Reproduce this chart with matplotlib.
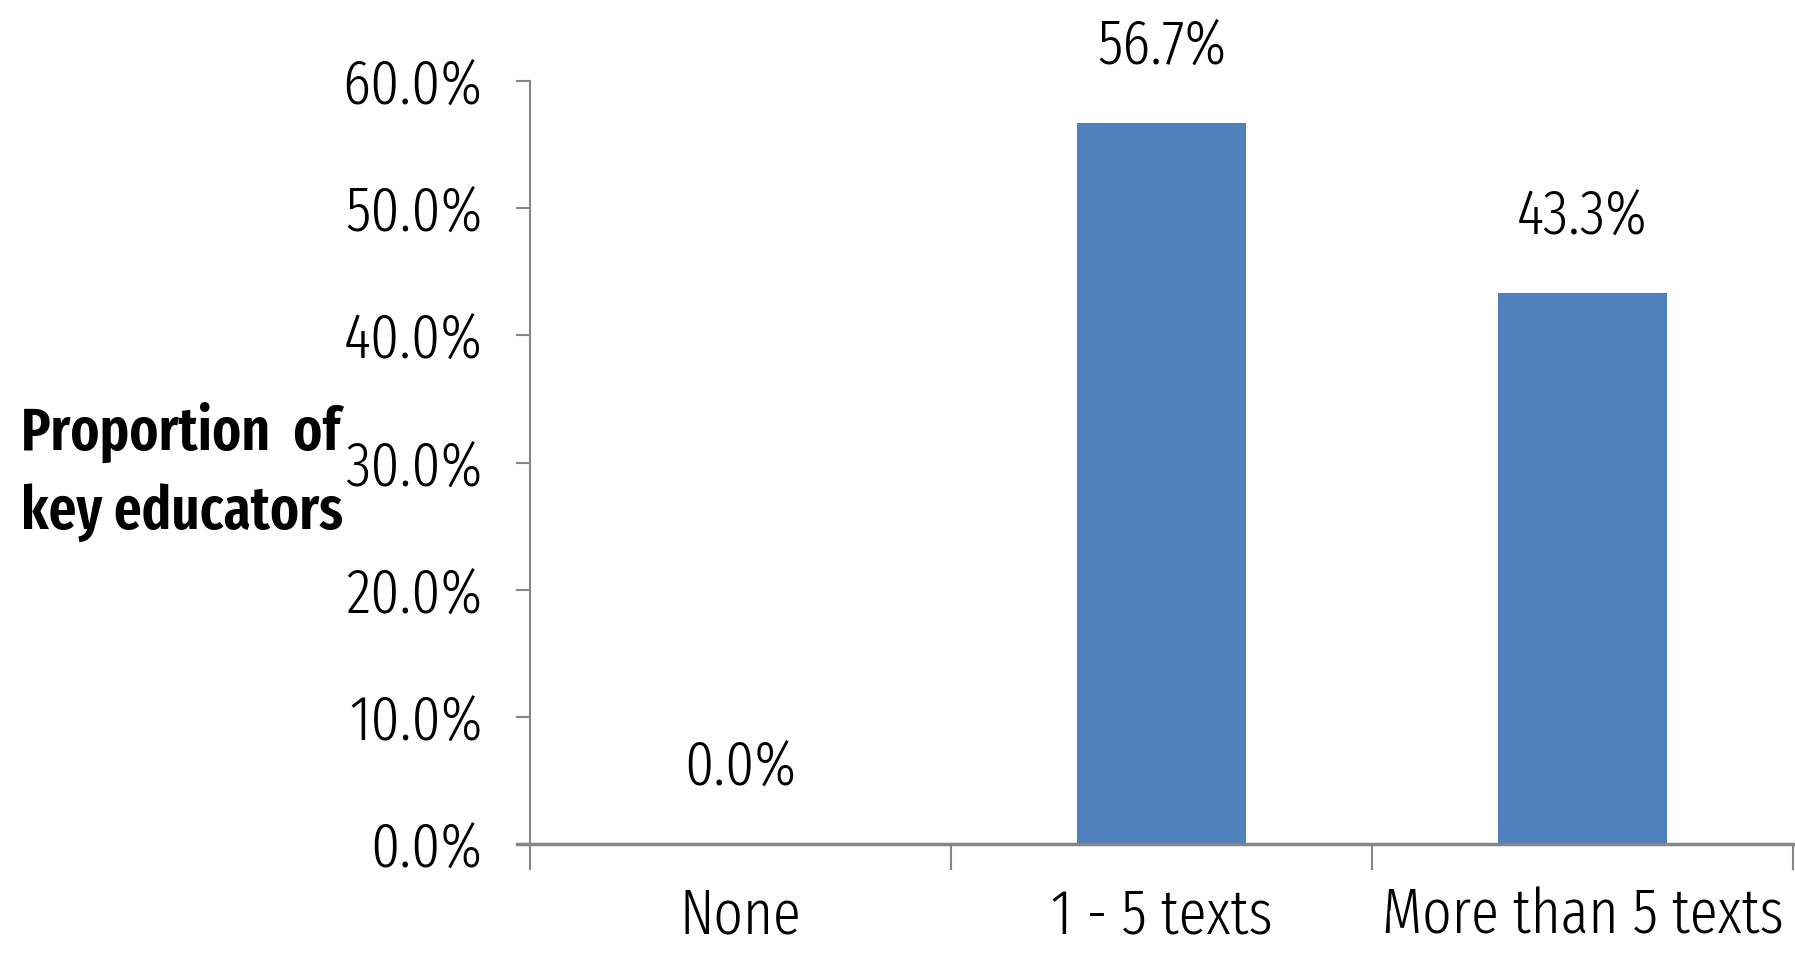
import matplotlib
matplotlib.use("Agg")
import matplotlib.pyplot as plt
from matplotlib.ticker import FixedLocator, PercentFormatter

categories = ["None", "1 - 5 texts", "More than 5 texts"]
shares = [0.0, 0.567, 0.433]
value_labels = ["0.0%", "56.7%", "43.3%"]
y_ticks = [0.0, 0.1, 0.2, 0.3, 0.4, 0.5, 0.6]
y_title = "Proportion  of\nkey educators"

FONT = ["Fira Sans Extra Condensed", "Fira Sans Condensed", "DejaVu Sans"]
BAR_COLOR = "#4F81BD"
AXIS_COLOR = "#868686"
LABEL_SIZE = 45

plt.rcParams["font.family"] = FONT
plt.rcParams["font.weight"] = 300

fig = plt.figure(figsize=(17.95, 9.67), dpi=100)
ax = fig.add_axes([0.2953, 0.1272, 0.7037, 0.789])

x = list(range(len(categories)))
ax.bar(x, shares, width=0.4, color=BAR_COLOR, zorder=2)

for xi, v, lab in zip(x, shares, value_labels):
    ax.annotate(lab, (xi, v), xytext=(0, 33), textcoords="offset points",
                ha="center", va="bottom", fontsize=LABEL_SIZE, color="black",
                fontweight=300)

ax.set_xlim(-0.5, len(categories) - 0.5)
ax.set_ylim(0, 0.6)

# y axis
ax.set_yticks(y_ticks)
ax.yaxis.set_major_formatter(PercentFormatter(1.0, decimals=1))
ax.tick_params(axis="y", which="major", length=10, width=1.5, color=AXIS_COLOR,
               direction="out", pad=24, labelsize=LABEL_SIZE, labelcolor="black")

# x axis: ticks at category boundaries, labels at category centres
ax.xaxis.set_major_locator(FixedLocator([i - 0.5 for i in range(len(categories) + 1)]))
ax.xaxis.set_minor_locator(FixedLocator(x))
ax.set_xticklabels([""] * (len(categories) + 1))
ax.set_xticklabels(categories, minor=True)
ax.tick_params(axis="x", which="major", length=19, width=1.5, color=AXIS_COLOR,
               direction="out")
ax.tick_params(axis="x", which="minor", length=0, pad=30, labelsize=LABEL_SIZE,
               labelcolor="black")
for t in ax.get_xticklabels(minor=True) + ax.get_yticklabels():
    t.set_fontweight(300)

for side in ("top", "right"):
    ax.spines[side].set_visible(False)
ax.spines["left"].set_color(AXIS_COLOR)
ax.spines["left"].set_linewidth(1.5)
ax.spines["bottom"].set_color(AXIS_COLOR)
ax.spines["bottom"].set_linewidth(2.5)
ax.spines["bottom"].set_bounds(-0.5 - 0.03, len(categories) - 0.5)

fig.text(0.0117, 0.512, y_title, ha="left", va="center", multialignment="left",
         fontsize=43, fontweight=600, color="black", linespacing=1.45)

fig.savefig("out.png", dpi=100)
